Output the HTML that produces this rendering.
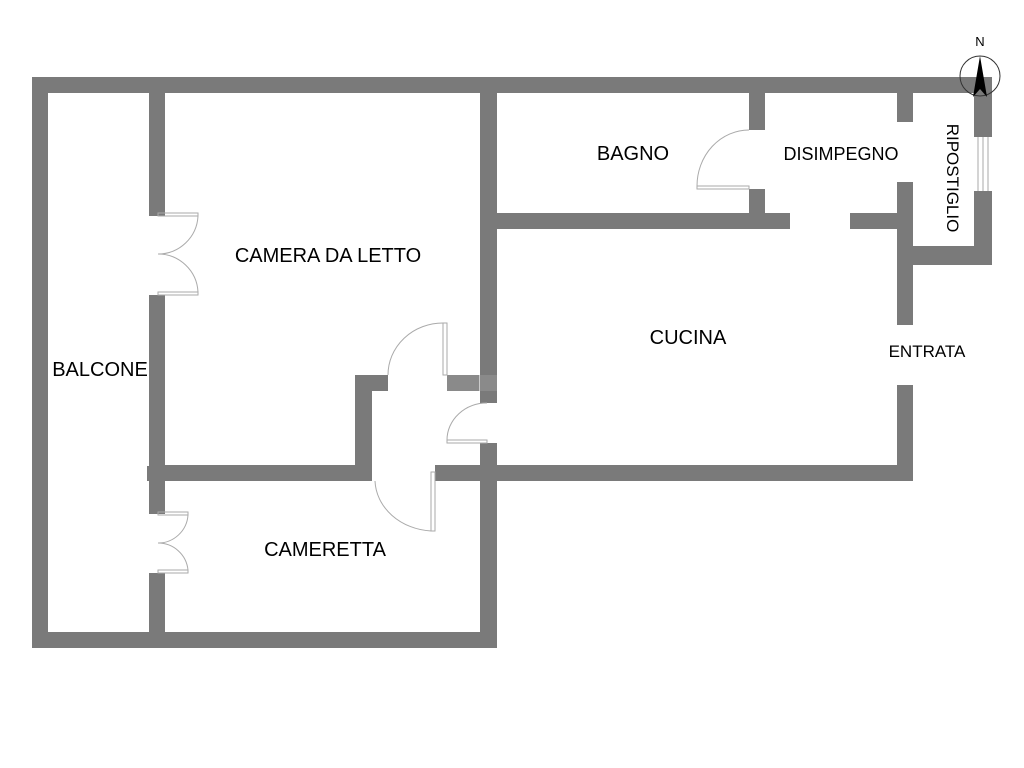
<!DOCTYPE html>
<html><head><style>body{margin:0;background:#fff}svg{display:block}text{font-family:"Liberation Sans",sans-serif;fill:#000}</style></head><body>
<svg width="1024" height="768" viewBox="0 0 1024 768">
<rect width="1024" height="768" fill="#fff"/>
<g fill="#7a7a7a">
<rect x="32" y="77" width="960" height="16"/>
<rect x="32" y="77" width="16" height="571"/>
<rect x="32" y="632" width="118" height="16"/>
<rect x="150" y="632" width="347" height="16"/>
<rect x="149" y="93" width="16" height="123"/>
<rect x="149" y="295" width="16" height="219"/>
<rect x="147" y="466" width="18" height="15"/>
<rect x="149" y="573" width="16" height="75"/>
<rect x="150" y="465" width="222" height="16"/>
<rect x="355" y="375" width="17" height="106"/>
<rect x="355" y="375" width="33" height="16"/>
<rect x="447" y="375" width="32" height="16"/>
<rect x="435" y="465" width="478" height="16"/>
<rect x="480" y="93" width="17" height="310"/>
<rect x="480" y="443" width="17" height="205"/>
<rect x="480" y="213" width="310" height="16"/>
<rect x="749" y="93" width="16" height="37"/>
<rect x="749" y="189" width="16" height="24"/>
<rect x="850" y="213" width="63" height="16"/>
<rect x="897" y="93" width="16" height="29"/>
<rect x="897" y="182" width="16" height="143"/>
<rect x="897" y="385" width="16" height="96"/>
<rect x="913" y="246" width="79" height="19"/>
<rect x="974" y="93" width="18" height="44"/>
<rect x="974" y="191" width="18" height="74"/>
</g>
<rect x="447" y="375" width="50" height="16" fill="#999" opacity="0.5"/>
<g fill="none" stroke="#aaa" stroke-width="1">
<line x1="978" y1="137" x2="978" y2="191"/><line x1="983" y1="137" x2="983" y2="191"/><line x1="988" y1="137" x2="988" y2="191"/>
<rect x="158" y="213" width="40" height="3"/><path d="M198,216 A40,40 0 0 1 158,254"/>
<rect x="158" y="292" width="40" height="3"/><path d="M198,292 A40,40 0 0 0 158,254"/>
<rect x="158" y="512" width="30" height="3"/><path d="M188,515 A30,30 0 0 1 158,543"/>
<rect x="158" y="570" width="30" height="3"/><path d="M188,570 A30,30 0 0 0 158,543"/>
<rect x="443" y="323" width="4" height="52"/><path d="M443,323 A55,52 0 0 0 388,375"/>
<rect x="431" y="472" width="4" height="59"/><path d="M431,531 A60,52 0 0 1 375,481"/>
<rect x="447" y="440" width="40" height="3"/><path d="M447,440 A40,37 0 0 1 487,403"/>
<rect x="697" y="186" width="52" height="3"/><path d="M697,186 A52,56 0 0 1 749,130"/>
</g>
<circle cx="980" cy="76" r="20" fill="none" stroke="#333" stroke-width="1"/>
<polygon points="980,56 973,97 980,89 987,97" fill="#000"/>
<text x="980" y="46" font-size="13" text-anchor="middle">N</text>
<g font-size="20" text-anchor="middle">
<text x="633" y="160">BAGNO</text>
<text x="328" y="262">CAMERA DA LETTO</text>
<text x="688" y="344">CUCINA</text>
<text x="100" y="376">BALCONE</text>
<text x="325" y="556">CAMERETTA</text>
</g>
<text x="841" y="160" font-size="18" text-anchor="middle">DISIMPEGNO</text>
<text x="927" y="357" font-size="17" text-anchor="middle">ENTRATA</text>
<text x="0" y="0" font-size="17" text-anchor="middle" transform="translate(947,178) rotate(90)">RIPOSTIGLIO</text>
</svg>
</body></html>
